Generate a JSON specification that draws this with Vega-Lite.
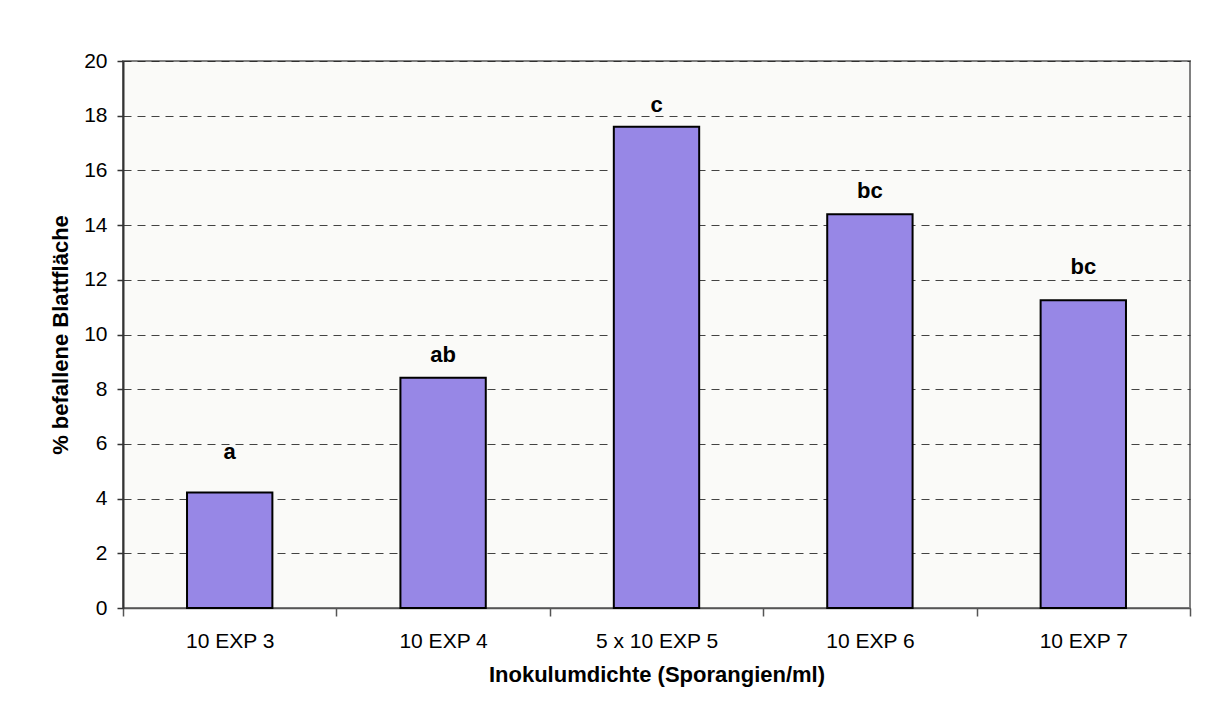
{
  "$schema": "https://vega.github.io/schema/vega-lite/v6.json",
  "width": 1067,
  "height": 547,
  "autosize": {"type": "none"},
  "padding": {"left": 123, "top": 61, "right": 28, "bottom": 113},
  "background": "#ffffff",
  "config": {
    "font": "Liberation Sans",
    "view": {"fill": "#FAFAF8", "stroke": "#808080", "strokeWidth": 2}
  },
  "data": {
    "values": [
      {"dichte": "10 EXP 3", "befall": 4.22, "label": "a", "label_y": 5.71},
      {"dichte": "10 EXP 4", "befall": 8.42, "label": "ab", "label_y": 9.25},
      {"dichte": "5 x 10 EXP 5", "befall": 17.6, "label": "c", "label_y": 18.39},
      {"dichte": "10 EXP 6", "befall": 14.4, "label": "bc", "label_y": 15.25},
      {"dichte": "10 EXP 7", "befall": 11.25, "label": "bc", "label_y": 12.47}
    ]
  },
  "encoding": {
    "x": {
      "field": "dichte",
      "type": "nominal",
      "sort": null,
      "scale": {"paddingInner": 0, "paddingOuter": 0},
      "axis": {
        "title": "Inokulumdichte (Sporangien/ml)",
        "titleFont": "Liberation Sans",
        "titleFontSize": 22,
        "titleFontWeight": "bold",
        "titleColor": "#000000",
        "titlePadding": 13,
        "labelAngle": 0,
        "labelFont": "Liberation Sans",
        "labelFontSize": 21,
        "labelColor": "#000000",
        "labelPadding": 14,
        "tickBand": "extent",
        "tickSize": 8,
        "tickColor": "#555555",
        "tickWidth": 1.5,
        "domainColor": "#555555",
        "domainWidth": 1.5,
        "grid": false
      }
    }
  },
  "layer": [
    {
      "mark": {"type": "bar", "width": {"band": 0.4}, "fill": "#9787E6", "stroke": "#000000", "strokeWidth": 2},
      "encoding": {
        "y": {
          "field": "befall",
          "type": "quantitative",
          "scale": {"domain": [0, 20], "nice": false},
          "axis": {
            "title": "% befallene Blattfläche",
            "titleFont": "Liberation Sans",
            "titleFontSize": 22,
            "titleFontWeight": "bold",
            "titleColor": "#000000",
            "titlePadding": 11,
            "values": [0, 2, 4, 6, 8, 10, 12, 14, 16, 18, 20],
            "labelFont": "Liberation Sans",
            "labelFontSize": 21,
            "labelColor": "#000000",
            "labelPadding": 10,
            "tickSize": 6,
            "tickColor": "#333333",
            "tickWidth": 1.5,
            "domainColor": "#333333",
            "domainWidth": 2,
            "grid": true,
            "gridColor": "#222222",
            "gridDash": [8, 6],
            "gridWidth": 1,
            "gridOpacity": 0.85
          }
        }
      }
    },
    {
      "mark": {"type": "text", "font": "Liberation Sans", "fontSize": 22, "fontWeight": "bold", "color": "#000000", "baseline": "middle", "align": "center"},
      "encoding": {
        "y": {"field": "label_y", "type": "quantitative"},
        "text": {"field": "label"}
      }
    }
  ]
}
